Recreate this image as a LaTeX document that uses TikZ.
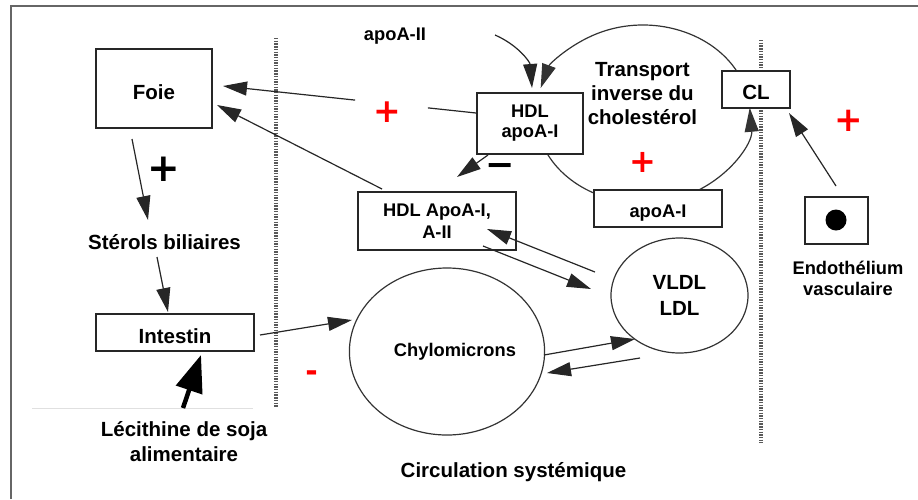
\documentclass[tikz,border=0pt]{standalone}
\usepackage{fontspec}
\setmainfont{Liberation Sans}
\newfontfamily\djv{DejaVu Sans}
\usetikzlibrary{arrows.meta,shapes.geometric,calc}
\begin{document}
\begin{tikzpicture}[x=1pt,y=-1pt,
  big/.style={font=\fontsize{20.5}{24}\selectfont\bfseries},
  small/.style={font=\fontsize{18.3}{20}\selectfont\bfseries},
  box/.style={draw=black!85, line width=1.7pt, fill=white, inner sep=0pt, outer sep=0pt},
  txt/.style={inner sep=1pt, outer sep=0pt},
  conn/.style={line width=1.2pt, draw=black!85},
  head/.style={-{Triangle[length=24pt,width=14pt]}},
  arr/.style={conn, head},
  thickarr/.style={line width=4.5pt, draw=black, -{Triangle[length=37pt,width=27pt]}},
  ring/.style={draw=black!80, line width=1.2pt},
  hatch/.style={line width=4pt, draw=black!65, dash pattern=on 1.4pt off 1.3pt},
  sign/.style={inner sep=0pt, outer sep=0pt, text depth=0pt},
]
\useasboundingbox (0,0) rectangle (918,499);
% frame and membranes
\draw[black!60, line width=1.5pt] (11,499) -- (11,6) -- (918,6);
\draw[hatch] (276,38) -- (276,407);
\draw[hatch] (761,40) -- (761,443);
\draw[black!12, line width=0.8pt] (32,408) -- (253,408);
% reverse transport cycle
\coordinate (tc) at (643,114);
\draw[ring, head] ($(tc)+(-25:107 and 89)$) arc[start angle=-25, end angle=-163, x radius=107, y radius=89];
\draw[ring, head] ($(tc)+(62:107 and 89)$) arc[start angle=62, end angle=-4, x radius=107, y radius=89];
\draw[ring] ($(tc)+(155:107 and 89)$) arc[start angle=155, end angle=115, x radius=107, y radius=89];
% nodes
\node[box, minimum width=116pt, minimum height=79pt, big, text height=21pt, text depth=0pt] (foie) at (154,88.5) {Foie};
\node[txt, big, anchor=base] (ster) at (164.5,249) {Stérols biliaires};
\node[box, minimum width=158pt, minimum height=37pt, big, text height=21pt, text depth=0pt] (int) at (175,332.5) {Intestin};
\node[txt, font=\fontsize{20.5}{25}\selectfont\bfseries, align=center] (lec) at (184,442) {Lécithine de soja\\alimentaire};
\node[ring, ellipse, minimum width=192pt, minimum height=167pt, small, inner sep=0pt, outer sep=0pt] (chylo) at (447,351.5) {\hspace*{16pt}Chylomicrons};
\node[ring, ellipse, minimum width=137pt, minimum height=115pt, font=\fontsize{20.5}{26}\selectfont\bfseries, align=center, inner sep=0pt, outer sep=0pt] (vldl) at (679.5,295.5) {VLDL\\LDL};
\node[box, minimum width=106pt, minimum height=61pt, small, align=center] (hdl) at (530,123.5) {HDL\\apoA-I};
\node[box, minimum width=158pt, minimum height=58pt, font=\fontsize{18.3}{22}\selectfont\bfseries, align=center] (hdl2) at (437,221) {HDL ApoA-I,\\A-II};
\node[box, minimum width=128pt, minimum height=37pt, small, text height=17pt, text depth=0pt] (apoa) at (658,208.5) {apoA-I};
\node[box, minimum width=68pt, minimum height=37pt, big, text height=19pt, text depth=0pt] (cl) at (756,89.5) {CL};
\node[box, minimum width=63pt, minimum height=47pt] (endo) at (836.5,220.5) {};
\node[circle, fill=black, minimum size=21pt, inner sep=0pt] (dot) at (836,220) {};
\node[txt, font=\fontsize{18.3}{21}\selectfont\bfseries, align=center] (endot) at (848,278.5) {Endothélium\\vasculaire};
\node[txt, big, align=center] (tr) at (642.5,94) {Transport\\inverse du\\cholestérol};
\node[txt, small, anchor=base] (a2) at (395,40) {apoA-II};
\node[txt, big, anchor=base] (circ) at (513.5,477) {Circulation systémique};
% signs
\node[sign, text=red, font=\fontsize{33}{33}\selectfont\djv\bfseries, text height=21.1pt] (p1) at (387.5,111.5) {+};
\node[sign, text=red, font=\fontsize{32}{32}\selectfont\djv\bfseries, text height=20.5pt] (p2) at (642.5,162) {+};
\node[sign, text=red, font=\fontsize{34}{34}\selectfont\djv\bfseries, text height=21.8pt] (p3) at (849,121) {+};
\node[sign, text=black, font=\fontsize{39}{39}\selectfont\djv\bfseries, text height=25pt] (p4) at (163.5,169) {+};
\node[sign, text=black, font=\fontsize{35}{35}\selectfont\djv\bfseries, text height=22.4pt] (m1) at (500,165) {−};
\node[sign, text=red, font=\fontsize{30}{30}\selectfont\djv\bfseries, text height=18pt] (m2) at (311.5,372) {-};
% connectors
\draw[arr] ($(foie.south)+(-22,11)$) -- ($(ster.base)+(-16.5,-29)$);
\draw[arr] ($(ster.base)+(-7.5,8)$) -- ($(int.north)+(-7,-2)$);
\draw[thickarr] ($(lec.center)+(-1,-34)$) -- ($(int.south)+(26,4)$);
\draw[arr] ($(int.east)+(6,2.5)$) -- ($(chylo.center)+(-95,-31.5)$);
\draw[arr] ($(chylo.center)+(97,3.5)$) -- ($(vldl.center)+(-44.5,43.5)$);
\draw[arr] ($(vldl.center)+(-39.5,62.5)$) -- ($(chylo.center)+(100,21.5)$);
\draw[arr] ($(hdl2.center)+(46,25)$) -- ($(vldl.center)+(-88.5,-6.5)$);
\draw[arr] ($(vldl.center)+(-84.5,-23.5)$) -- ($(hdl2.center)+(50,8)$);
\draw[arr] ($(hdl.south)+(-42,1)$) -- ($(hdl2.north)+(20,-15)$);
\coordinate (hA) at ($(hdl.west)+(-1,-10.5)$);
\coordinate (hB) at ($(foie.east)+(11,-2.5)$);
\draw[conn] (hA) -- ($(hA)!0.19!(hB)$);
\draw[arr] ($(hA)!0.478!(hB)$) -- (hB);
\draw[arr] ($(hdl2.north west)+(24,-3)$) -- ($(foie.east)+(5,16.5)$);
\coordinate (a2s) at ($(a2.base)+(100,-5)$);
\draw[arr] (a2s) .. controls +(23,10) and +(-2,-26) .. ($(hdl.north)+(2,-5)$);
\draw[arr] ($(endo.north)+(-0.5,-11)$) -- ($(cl.south east)+(-1,5)$);
\end{tikzpicture}
\end{document}
